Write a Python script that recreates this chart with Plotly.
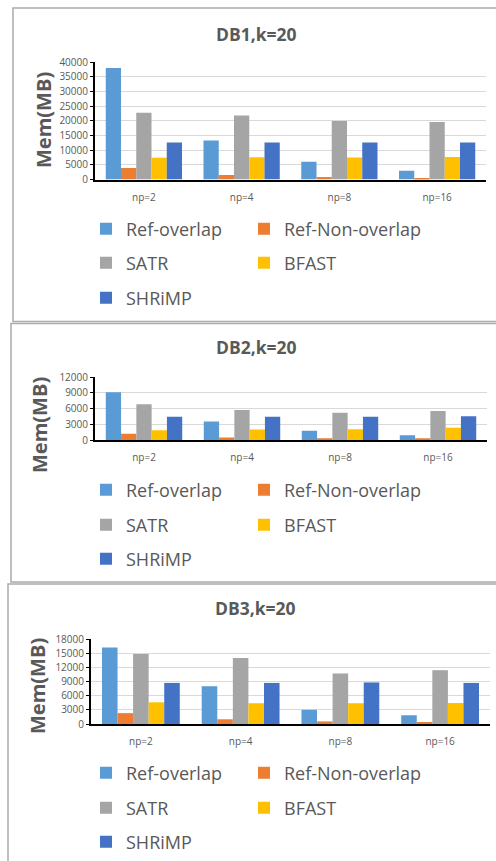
import plotly.graph_objects as go

categories = ["np=2", "np=4", "np=8", "np=16"]
series_names = ["Ref-overlap", "Ref-Non-overlap", "SATR", "BFAST", "SHRiMP"]
series_colors = ["#5B9BD5", "#ED7D31", "#A5A5A5", "#FFC000", "#4472C4"]

# DB1, k=20
db1_ref_overlap = [38000, 13300, 6000, 3000]
db1_ref_non_overlap = [3900, 1500, 850, 500]
db1_satr = [22700, 21800, 19900, 19600]
db1_bfast = [7400, 7600, 7500, 7700]
db1_shrimp = [12600, 12600, 12600, 12600]

# DB2, k=20
db2_ref_overlap = [9150, 3550, 1750, 900]
db2_ref_non_overlap = [1200, 500, 350, 250]
db2_satr = [6850, 5750, 5200, 5550]
db2_bfast = [1850, 2000, 2050, 2350]
db2_shrimp = [4450, 4450, 4450, 4550]

# DB3, k=20
db3_ref_overlap = [16200, 8000, 3000, 1850]
db3_ref_non_overlap = [2300, 1000, 550, 400]
db3_satr = [14800, 14000, 10700, 11400]
db3_bfast = [4600, 4400, 4400, 4450]
db3_shrimp = [8700, 8700, 8800, 8700]

panel_titles = ["DB1,k=20", "DB2,k=20", "DB3,k=20"]
y_tick_values = [
    [0, 5000, 10000, 15000, 20000, 25000, 30000, 35000, 40000],
    [0, 3000, 6000, 9000, 12000],
    [0, 3000, 6000, 9000, 12000, 15000, 18000],
]
y_title = "Mem(MB)"

panels = [
    [db1_ref_overlap, db1_ref_non_overlap, db1_satr, db1_bfast, db1_shrimp],
    [db2_ref_overlap, db2_ref_non_overlap, db2_satr, db2_bfast, db2_shrimp],
    [db3_ref_overlap, db3_ref_non_overlap, db3_satr, db3_bfast, db3_shrimp],
]

W, H = 496, 861
def px(x):
    return x / W
def py(y):
    return 1 - y / H

TEXT = "#595959"
FONT = "Open Sans"

# layout geometry (pixels)
x_domains = [(95, 486), (95, 487), (91, 490)]
y_domains = [(179.5, 62), (440, 377.3), (724, 639)]
title_pos = [(256, 34), (256, 347), (255, 608)]
ytitle_pos = [(43.5, 120.5), (40, 425), (37.5, 686.5)]
legend_rows = [(229, 263, 298), (490, 525, 559), (773, 808, 842)]
legend_cols = [86, 244]
series_row = [0, 0, 1, 1, 2]
series_col = [0, 1, 0, 1, 0]
borders = [(13, 8, 520, 321.5), (11, 323.5, 520, 582), (8, 584, 520, 900)]

fig = go.Figure()

def legend_key(p, s):
    i = p * 5 + s + 1
    return "legend" if i == 1 else "legend%d" % i

for p, data in enumerate(panels):
    sfx = "" if p == 0 else str(p + 1)
    for s, vals in enumerate(data):
        fig.add_trace(go.Bar(
            x=categories, y=vals, name=series_names[s],
            marker=dict(color=series_colors[s], line=dict(width=0)),
            xaxis="x" + sfx, yaxis="y" + sfx,
            legend=legend_key(p, s),
            showlegend=True,
        ))

layout = dict(
    width=W, height=H,
    margin=dict(l=0, r=0, t=0, b=0, pad=0, autoexpand=False),
    paper_bgcolor="white", plot_bgcolor="white",
    font=dict(family=FONT, color=TEXT),
    barmode="group", bargap=0.22, bargroupgap=0.0,
    showlegend=True,
)

annotations = []
shapes = []
for p in range(3):
    sfx = "" if p == 0 else str(p + 1)
    xd = x_domains[p]
    yd = y_domains[p]
    layout["xaxis" + sfx] = dict(
        domain=[px(xd[0]), px(xd[1])], anchor="y" + sfx,
        showline=True, linecolor="black", linewidth=2,
        ticks="", showgrid=False, ticklabelstandoff=7,
        tickfont=dict(size=10, color=TEXT, family=FONT),
        fixedrange=True,
    )
    layout["yaxis" + sfx] = dict(
        domain=[py(yd[0]), py(yd[1])], anchor="x" + sfx,
        range=[0, y_tick_values[p][-1]],
        tickvals=y_tick_values[p],
        ticktext=[str(v) for v in y_tick_values[p]],
        showline=True, linecolor="black", linewidth=2,
        ticks="outside", ticklen=3, tickcolor="black", tickwidth=1,
        showgrid=True, gridcolor="#D9D9D9", gridwidth=1,
        zeroline=False,
        tickfont=dict(size=10, color=TEXT, family=FONT),
        fixedrange=True,
    )
    tx, ty = title_pos[p]
    annotations.append(dict(
        text="<b>%s</b>" % panel_titles[p], x=px(tx), y=py(ty),
        xref="paper", yref="paper", showarrow=False,
        xanchor="center", yanchor="middle",
        font=dict(size=17.5, color=TEXT, family=FONT),
    ))
    ax, ay = ytitle_pos[p]
    annotations.append(dict(
        text="<b>%s</b>" % y_title, x=px(ax), y=py(ay),
        xref="paper", yref="paper", showarrow=False, textangle=-90,
        xanchor="center", yanchor="middle",
        font=dict(size=20, color=TEXT, family=FONT),
    ))
    bx0, by0, bx1, by1 = borders[p]
    shapes.append(dict(
        type="rect", xref="paper", yref="paper",
        x0=px(bx0), x1=px(bx1), y0=py(by0), y1=py(by1),
        line=dict(color="#ABABAB", width=1.5), fillcolor="rgba(0,0,0,0)",
        layer="above",
    ))
    for s in range(5):
        layout[legend_key(p, s)] = dict(
            orientation="h",
            x=px(legend_cols[series_col[s]]), xanchor="left",
            y=py(legend_rows[p][series_row[s]]), yanchor="middle",
            bgcolor="rgba(0,0,0,0)", borderwidth=0,
            font=dict(size=18, color=TEXT, family=FONT),
            itemclick=False, itemdoubleclick=False,
        )

layout["annotations"] = annotations
layout["shapes"] = shapes
fig.update_layout(**layout)

fig.write_html("out.html", config={"displayModeBar": False},
               post_script="document.body.style.margin='0';document.body.style.overflow='hidden';")
